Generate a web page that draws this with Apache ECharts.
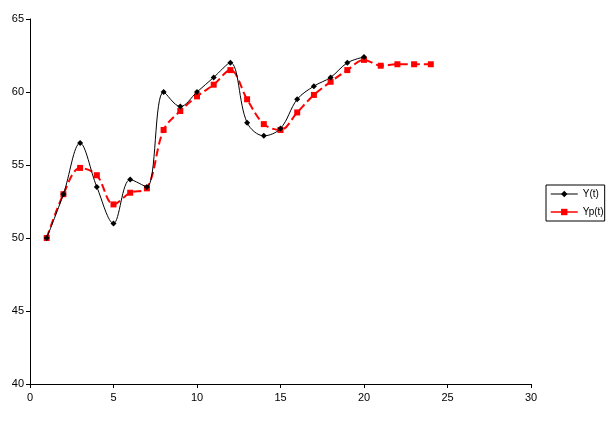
<!DOCTYPE html>
<html><head><meta charset="utf-8">
<script src="https://cdn.jsdelivr.net/npm/echarts@6/dist/echarts.min.js"></script>
<style>html,body{margin:0;padding:0;background:#fff}#c{width:613px;height:421px}</style>
</head><body><div id="c"></div>
<script>
const tY = [1,2,3,4,5,6,7,8,9,10,11,12,13,14,15,16,17,18,19,20];
const yVals = [50,53,56.5,53.5,51,54,53.5,60,59,60,61,62,57.9,57,57.5,59.5,60.4,61,62,62.4];
const tYp = [1,2,3,4,5,6,7,8,9,10,11,12,13,14,15,16,17,18,19,20,21,22,23,24];
const ypVals = [50,53,54.8,54.3,52.3,53.1,53.4,57.4,58.7,59.7,60.5,61.5,59.5,57.8,57.4,58.6,59.8,60.7,61.5,62.2,61.8,61.9,61.9,61.9];
const names = ['Y(t)','Yp(t)'];

const chart = echarts.init(document.getElementById('c'));
const font = 'Liberation Sans';
chart.setOption({
  animation:false,
  grid:{left:30,right:82,top:19,bottom:37,containLabel:false},
  xAxis:{type:'value',min:0,max:30,interval:5,
    axisLine:{lineStyle:{color:'#000',width:1}},
    axisTick:{show:true,length:4,lineStyle:{color:'#000'}},
    axisLabel:{color:'#000',fontFamily:font,fontSize:11,margin:8},
    splitLine:{show:false}},
  yAxis:{type:'value',min:40,max:65,interval:5,
    axisLine:{show:true,lineStyle:{color:'#000',width:1}},
    axisTick:{show:true,length:4,lineStyle:{color:'#000'}},
    axisLabel:{color:'#000',fontFamily:font,fontSize:11,margin:6},
    splitLine:{show:false}},
  legend:{orient:'vertical',left:546,top:185,
    borderColor:'#000',borderWidth:1,borderRadius:0,padding:[3,1,3,4],
    itemGap:6,itemWidth:27,itemHeight:8,
    textStyle:{fontFamily:font,fontSize:10,color:'#000',lineHeight:12},
    data:[{name:names[0],lineStyle:{width:1}},{name:names[1],lineStyle:{width:1.5,type:'solid'}}]},
  series:[
    {name:names[1],type:'line',smooth:0.35,
     data:tYp.map((t,i)=>[t,ypVals[i]]),
     symbol:'rect',symbolSize:6,
     lineStyle:{color:'#ff0000',width:2,type:[8,4]},
     itemStyle:{color:'#ff0000'},z:2},
    {name:names[0],type:'line',smooth:0.35,
     data:tY.map((t,i)=>[t,yVals[i]]),
     symbol:'diamond',symbolSize:6,
     lineStyle:{color:'#000',width:1},
     itemStyle:{color:'#000'},z:3}
  ]
});
</script></body></html>
